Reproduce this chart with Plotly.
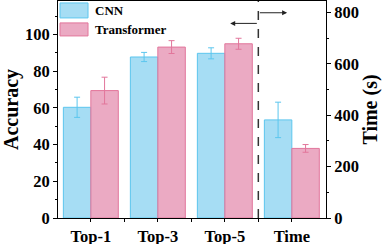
import plotly.graph_objects as go

categories = ["Top-1", "Top-3", "Top-5", "Time"]
acc_cats = [0, 1, 2]
time_cat = [3]
cnn_acc = [60.3, 87.7, 89.7]
cnn_acc_err = [5.5, 2.5, 3.0]
trans_acc = [69.4, 93.1, 94.9]
trans_acc_err = [7.3, 3.5, 3.0]
cnn_time = [382]
cnn_time_err = [69]
trans_time = [271]
trans_time_err = [15]

BLUE_FILL = "rgba(150,215,242,0.85)"
BLUE_LINE = "#5cc6ee"
PINK_FILL = "rgba(232,155,185,0.85)"
PINK_LINE = "#e2769b"
FONT = "Liberation Serif"
W = 0.41

fig = go.Figure()

def add_bar(x, y, err, fill, line, offset, yaxis):
    fig.add_trace(go.Bar(
        x=x, y=y, width=W, offset=offset, yaxis=yaxis,
        marker=dict(color=fill, line=dict(color=line, width=1)),
        error_y=dict(type="data", array=err, color=line, thickness=1, width=3),
        showlegend=False,
    ))

add_bar(acc_cats, cnn_acc, cnn_acc_err, BLUE_FILL, BLUE_LINE, -W, "y")
add_bar(acc_cats, trans_acc, trans_acc_err, PINK_FILL, PINK_LINE, 0, "y")
add_bar(time_cat, cnn_time, cnn_time_err, BLUE_FILL, BLUE_LINE, -W, "y2")
add_bar(time_cat, trans_time, trans_time_err, PINK_FILL, PINK_LINE, 0, "y2")

tickfont = dict(family=FONT, size=16.5, color="black", weight="bold")
titlefont = dict(family=FONT, size=20, color="black", weight="bold")

fig.update_layout(
    width=387, height=244,
    margin=dict(l=58, r=61, t=1, b=26, autoexpand=False),
    paper_bgcolor="white", plot_bgcolor="white",
    barmode="overlay",
    xaxis=dict(
        range=[-0.49, 3.51], tickvals=[0, 1, 2, 3], ticktext=categories,
        ticks="outside", ticklen=3, tickcolor="black", tickfont=tickfont,
        showline=True, linecolor="black", linewidth=1, mirror=True,
        showgrid=False, zeroline=False, automargin=False,
        minor=dict(tickvals=[0.5, 1.5, 2.5], ticks="outside", ticklen=3, tickcolor="black"),
    ),
    yaxis=dict(
        range=[0, 118.2], tickvals=[0, 20, 40, 60, 80, 100],
        ticks="outside", ticklen=4, tickcolor="black", tickfont=tickfont,
        showline=True, linecolor="black", linewidth=1,
        showgrid=False, zeroline=False, automargin=False,
        minor=dict(dtick=10, ticks="outside", ticklen=2, tickcolor="black"),
        title=dict(text="Accuracy", font=titlefont, standoff=4),
    ),
    yaxis2=dict(
        overlaying="y", side="right",
        range=[0, 845], tickvals=[0, 200, 400, 600, 800],
        ticks="outside", ticklen=4, tickcolor="black", tickfont=tickfont,
        showline=True, linecolor="black", linewidth=1,
        showgrid=False, zeroline=False, automargin=False,
        minor=dict(dtick=100, ticks="outside", ticklen=2, tickcolor="black"),
        title=dict(text="Time (s)", font=titlefont, standoff=4),
    ),
)

# divider between accuracy and time groups
fig.add_shape(type="line", xref="x", yref="paper", x0=2.5, x1=2.5, y0=0, y1=1,
              line=dict(color="#333333", width=1.5, dash="dash"))

# direction arrows
fig.add_annotation(x=2.08, y=106, xref="x", yref="y", ax=2.5, ay=106, axref="x", ayref="y",
                   text="", showarrow=True, arrowhead=2, arrowsize=1, arrowwidth=1, arrowcolor="#222")
fig.add_annotation(x=2.93, y=111.8, xref="x", yref="y", ax=2.5, ay=111.8, axref="x", ayref="y",
                   text="", showarrow=True, arrowhead=2, arrowsize=1, arrowwidth=1, arrowcolor="#222")

# custom legend
leg = [("CNN", BLUE_FILL, BLUE_LINE, 0.991, 0.922), ("Transformer", PINK_FILL, PINK_LINE, 0.899, 0.839)]
for name, fill, line, y1, y0 in leg:
    fig.add_shape(type="rect", xref="paper", yref="paper", x0=0.0075, x1=0.112, y0=y0, y1=y1,
                  fillcolor=fill, line=dict(color=line, width=1))
    fig.add_annotation(x=0.13, y=(y0 + y1) / 2, xref="paper", yref="paper", text=name,
                       showarrow=False, xanchor="left", yanchor="middle",
                       font=dict(family=FONT, size=13, color="black", weight="bold"))

fig.write_html("out.html", config={"displayModeBar": False},
               post_script="document.body.style.margin='0px';document.body.style.overflow='hidden';")
